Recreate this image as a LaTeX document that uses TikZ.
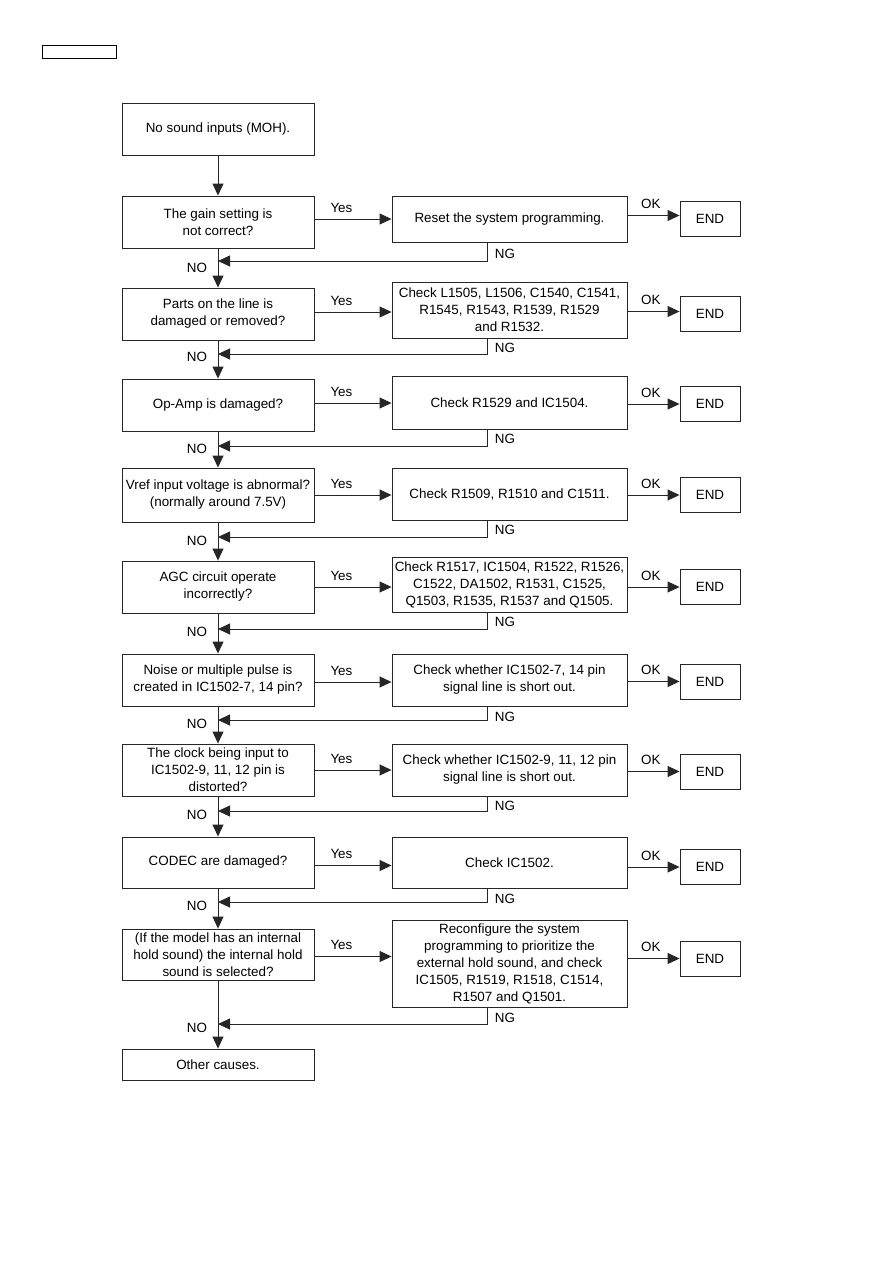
\documentclass[tikz,border=0pt]{standalone}
\usepackage{fontspec}
\setmainfont{Liberation Sans}
\usetikzlibrary{arrows.meta}

\begin{document}
\begin{tikzpicture}[x=1pt, y=-1pt,
        qbox/.style={draw=black!85, line width=0.9pt, minimum width=192pt, align=center, inner sep=1pt, font=\fontsize{13.4}{17}\selectfont},
        actbox/.style={qbox, minimum width=235pt},
        endbox/.style={qbox, minimum width=60pt, minimum height=35pt},
        flow/.style={-{Triangle[length=12pt, width=11pt]}, line width=0.9pt, draw=black!85},
        lbl/.style={font=\fontsize{13.4}{17}\selectfont, inner sep=0pt}
      ]
      \useasboundingbox (0,0) rectangle (893,1263);
      \node[draw, line width=1pt, minimum width=74pt, minimum height=13pt, inner sep=0pt] (tag) at (79,52) {};

      \node[qbox, minimum height=52pt] (q0) at (218,129) {No sound inputs (MOH).};

      \node[qbox, minimum height=52pt] (q1) at (218,222) {The gain setting is\\not correct?};
      \node[actbox, minimum height=46pt] (r1) at (509.5,219) {Reset the system programming.};
      \node[endbox] (e1) at (710,218.5) {END};

      \node[qbox, minimum height=52pt] (q2) at (218,314) {Parts on the line is\\damaged or removed?};
      \node[actbox, minimum height=56pt] (r2) at (509.5,310) {Check L1505, L1506, C1540, C1541,\\R1545, R1543, R1539, R1529\\and R1532.};
      \node[endbox] (e2) at (710,313.5) {END};

      \node[qbox, minimum height=52pt] (q3) at (218,405) {Op-Amp is damaged?};
      \node[actbox, minimum height=53pt] (r3) at (509.5,402.5) {Check R1529 and IC1504.};
      \node[endbox] (e3) at (710,404) {END};

      \node[qbox, minimum height=54pt] (q4) at (218,495) {Vref input voltage is abnormal?\\(normally around 7.5V)};
      \node[actbox, minimum height=52pt] (r4) at (509.5,494) {Check R1509, R1510 and C1511.};
      \node[endbox] (e4) at (710,495) {END};

      \node[qbox, minimum height=52pt] (q5) at (218,587) {AGC circuit operate\\incorrectly?};
      \node[actbox, minimum height=55pt] (r5) at (509.5,584.5) {Check R1517, IC1504, R1522, R1526,\\C1522, DA1502, R1531, C1525,\\Q1503, R1535, R1537 and Q1505.};
      \node[endbox] (e5) at (710,587) {END};

      \node[qbox, minimum height=52pt] (q6) at (218,680) {Noise or multiple pulse is\\created in IC1502-7, 14 pin?};
      \node[actbox, minimum height=52pt] (r6) at (509.5,680) {Check whether IC1502-7, 14 pin\\signal line is short out.};
      \node[endbox] (e6) at (710,681.5) {END};

      \node[qbox, minimum height=52pt] (q7) at (218,770) {The clock being input to\\IC1502-9, 11, 12 pin is\\distorted?};
      \node[actbox, minimum height=52pt] (r7) at (509.5,770) {Check whether IC1502-9, 11, 12 pin\\signal line is short out.};
      \node[endbox] (e7) at (710,771.5) {END};

      \node[qbox, minimum height=51pt] (q8) at (218,862.5) {CODEC are damaged?};
      \node[actbox, minimum height=51pt] (r8) at (509.5,862.5) {Check IC1502.};
      \node[endbox] (e8) at (710,867) {END};

      \node[qbox, minimum height=51pt] (q9) at (218,954.5) {(If the model has an internal\\hold sound) the internal hold\\sound is selected?};
      \node[actbox, minimum height=87pt] (r9) at (509.5,963.5) {Reconfigure the system\\programming to prioritize the\\external hold sound, and check\\IC1505, R1519, R1518, C1514,\\R1507 and Q1501.};
      \node[endbox] (e9) at (710,958.5) {END};

      \node[qbox, minimum height=31pt] (q10) at (218,1064.5) {Other causes.};

      % NG return points
      \coordinate (ng1) at (487,261);
      \coordinate (ng2) at (487,354);
      \coordinate (ng3) at (487,446);
      \coordinate (ng4) at (487,537);
      \coordinate (ng5) at (487,629);
      \coordinate (ng6) at (487,720);
      \coordinate (ng7) at (487,811);
      \coordinate (ng8) at (487,902);
      \coordinate (ng9) at (487,1024);

      \draw[flow] (q0) -- (q1);
      \draw[flow] (q1) -- (q2);
      \draw[flow] (q2) -- (q3);
      \draw[flow] (q3) -- (q4);
      \draw[flow] (q4) -- (q5);
      \draw[flow] (q5) -- (q6);
      \draw[flow] (q6) -- (q7);
      \draw[flow] (q7) -- (q8);
      \draw[flow] (q8) -- (q9);
      \draw[flow] (q9) -- (q10);

      \draw[flow] ([yshift=3pt]q1.east) -- node[lbl, above=6pt, pos=0.35] {Yes} ([yshift=3pt]q1.east -| r1.west);
      \draw[flow] ([yshift=2pt]q2.east) -- node[lbl, above=6pt, pos=0.35] {Yes} ([yshift=2pt]q2.east -| r2.west);
      \draw[flow] ([yshift=2pt]q3.east) -- node[lbl, above=6pt, pos=0.35] {Yes} ([yshift=2pt]q3.east -| r3.west);
      \draw[flow] (q4.east) -- node[lbl, above=6pt, pos=0.35] {Yes} (q4.east -| r4.west);
      \draw[flow] (q5.east) -- node[lbl, above=6pt, pos=0.35] {Yes} (q5.east -| r5.west);
      \draw[flow] ([yshift=-2pt]q6.east) -- node[lbl, above=6pt, pos=0.35] {Yes} ([yshift=-2pt]q6.east -| r6.west);
      \draw[flow] (q7.east) -- node[lbl, above=6pt, pos=0.35] {Yes} (q7.east -| r7.west);
      \draw[flow] ([yshift=-3pt]q8.east) -- node[lbl, above=6pt, pos=0.35] {Yes} ([yshift=-3pt]q8.east -| r8.west);
      \draw[flow] ([yshift=-2pt]q9.east) -- node[lbl, above=6pt, pos=0.35] {Yes} ([yshift=-2pt]q9.east -| r9.west);

      \draw[flow] ([yshift=3pt]r1.east |- e1.west) -- node[lbl, above=6pt, pos=0.45] {OK} ([yshift=3pt]e1.west);
      \draw[flow] ([yshift=2pt]r2.east |- e2.west) -- node[lbl, above=6pt, pos=0.45] {OK} ([yshift=2pt]e2.west);
      \draw[flow] (r3.east |- e3.west) -- node[lbl, above=6pt, pos=0.45] {OK} (e3.west);
      \draw[flow] (r4.east |- e4.west) -- node[lbl, above=6pt, pos=0.45] {OK} (e4.west);
      \draw[flow] (r5.east |- e5.west) -- node[lbl, above=6pt, pos=0.45] {OK} (e5.west);
      \draw[flow] (r6.east |- e6.west) -- node[lbl, above=6pt, pos=0.45] {OK} (e6.west);
      \draw[flow] (r7.east |- e7.west) -- node[lbl, above=6pt, pos=0.45] {OK} (e7.west);
      \draw[flow] (r8.east |- e8.west) -- node[lbl, above=6pt, pos=0.45] {OK} (e8.west);
      \draw[flow] (r9.east |- e9.west) -- node[lbl, above=6pt, pos=0.45] {OK} (e9.west);

      \draw[flow] (r1.south -| ng1) |- (q1.south |- ng1);
      \draw[flow] (r2.south -| ng2) |- (q2.south |- ng2);
      \draw[flow] (r3.south -| ng3) |- (q3.south |- ng3);
      \draw[flow] (r4.south -| ng4) |- (q4.south |- ng4);
      \draw[flow] (r5.south -| ng5) |- (q5.south |- ng5);
      \draw[flow] (r6.south -| ng6) |- (q6.south |- ng6);
      \draw[flow] (r7.south -| ng7) |- (q7.south |- ng7);
      \draw[flow] (r8.south -| ng8) |- (q8.south |- ng8);
      \draw[flow] (r9.south -| ng9) |- (q9.south |- ng9);

      \node[lbl] (ngt1) at (505,254) {NG};
      \node[lbl] (ngt2) at (505,348) {NG};
      \node[lbl] (ngt3) at (505,439) {NG};
      \node[lbl] (ngt4) at (505,530) {NG};
      \node[lbl] (ngt5) at (505,622) {NG};
      \node[lbl] (ngt6) at (505,717) {NG};
      \node[lbl] (ngt7) at (505,806) {NG};
      \node[lbl] (ngt8) at (505,899) {NG};
      \node[lbl] (ngt9) at (505,1018) {NG};

      \node[lbl] (no1) at (197,268) {NO};
      \node[lbl] (no2) at (197,357) {NO};
      \node[lbl] (no3) at (197,449) {NO};
      \node[lbl] (no4) at (197,541) {NO};
      \node[lbl] (no5) at (197,632) {NO};
      \node[lbl] (no6) at (197,724) {NO};
      \node[lbl] (no7) at (197,815) {NO};
      \node[lbl] (no8) at (197,906) {NO};
      \node[lbl] (no9) at (197,1028) {NO};
    \end{tikzpicture}
\end{document}
